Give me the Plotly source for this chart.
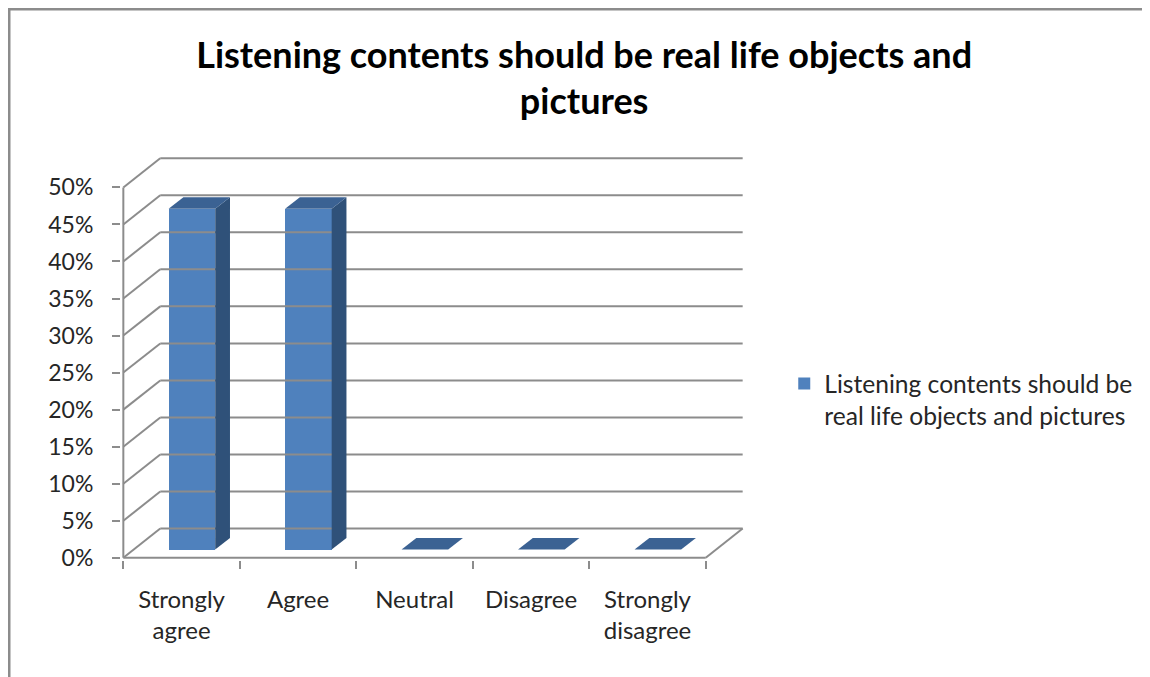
import plotly.graph_objects as go

# ---- data ----
categories = ["Strongly<br>agree", "Agree", "Neutral", "Disagree", "Strongly<br>disagree"]
values = [0.46, 0.46, 0.0, 0.0, 0.0]
series_name = "Listening contents should be<br>real life objects and pictures"
title_text = "Listening contents should be real life objects and<br>pictures"
y_ticks = [0.0, 0.05, 0.10, 0.15, 0.20, 0.25, 0.30, 0.35, 0.40, 0.45, 0.50]
y_tick_labels = ["0%", "5%", "10%", "15%", "20%", "25%", "30%", "35%", "40%", "45%", "50%"]

# ---- styling / 3D projection parameters ----
FRONT = "#4F81BD"
SIDE = "#2F5179"
TOP = "#3B6293"
GRID = "#8C8C8C"
DX = 0.317   # depth offset in category units
DY = 0.0394  # depth offset in value units
F0, F1 = 0.28, 0.68  # bar depth start / end fraction
BW = 0.40  # bar width
n = len(categories)
xl, xr = -0.5, n - 0.5
ymax = y_ticks[-1]

W, H = 1150, 677
ML, MR, MT, MB = 113, 413, 148, 125
PW, PH = W - ML - MR, H - MT - MB

fig = go.Figure()

# back wall gridlines + left side diagonals
gx, gy = [], []
for t in y_ticks:
    gx += [xl + DX, xr + DX, None]
    gy += [t + DY, t + DY, None]
    gx += [xl, xl + DX, None]
    gy += [t, t + DY, None]
# floor front line, right diagonal, front vertical axis
gx += [xl, xr, None, xr, xr + DX, None, xl, xl, None]
gy += [0, 0, None, 0, DY, None, 0, ymax, None]
fig.add_trace(go.Scatter(x=gx, y=gy, mode="lines", line=dict(color=GRID, width=2),
                         hoverinfo="skip", showlegend=False))

# front faces of bars
base = F0 * DY
xs = [i + F0 * DX for i in range(n)]
fig.add_trace(go.Bar(x=xs, y=values, base=[base] * n, width=BW,
                     marker=dict(color=FRONT, line=dict(width=0)),
                     name=series_name, showlegend=True))

# side and top faces
ddx = (F1 - F0) * DX
ddy = (F1 - F0) * DY
for xc, v in zip(xs, values):
    a, b = xc - BW / 2, xc + BW / 2
    if v > 0:
        fig.add_trace(go.Scatter(
            x=[b, b, b + ddx, b + ddx, b], y=[base, base + v, base + v + ddy, base + ddy, base],
            mode="lines", fill="toself", fillcolor=SIDE, line=dict(width=0, color=SIDE),
            hoverinfo="skip", showlegend=False))
    fig.add_trace(go.Scatter(
        x=[a, b, b + ddx, a + ddx, a], y=[base + v, base + v, base + v + ddy, base + v + ddy, base + v],
        mode="lines", fill="toself", fillcolor=TOP, line=dict(width=0, color=TOP),
        hoverinfo="skip", showlegend=False))

# invisible trace to carry the boundary tick axis
fig.add_trace(go.Scatter(x=[xl], y=[0], xaxis="x2", mode="markers",
                         marker=dict(opacity=0), hoverinfo="skip", showlegend=False))

xrange = [xl - 0.02, xr + DX + 0.02]
fig.update_layout(
    width=W, height=H,
    margin=dict(l=ML, r=MR, t=MT, b=MB, autoexpand=False),
    paper_bgcolor="white", plot_bgcolor="white",
    title=dict(text=title_text, x=0.501, xanchor="center", y=0.912, yanchor="top",
               xref="container", yref="container",
               font=dict(family="Lato", size=36, color="black", weight="bold")),
    xaxis=dict(range=xrange, tickvals=list(range(n)), ticktext=categories,
               showgrid=False, zeroline=False, showline=False, ticks="",
               ticklabelstandoff=23,
               tickfont=dict(family="Lato", size=24, color="#262626")),
    xaxis2=dict(range=xrange, overlaying="x", anchor="y", side="bottom",
                tickvals=[i - 0.5 for i in range(n + 1)], showticklabels=False,
                ticks="outside", ticklen=8, tickwidth=2, tickcolor=GRID,
                showgrid=False, zeroline=False, showline=False),
    yaxis=dict(range=[-0.003, ymax + DY + 0.003], tickvals=y_ticks, ticktext=y_tick_labels,
               showgrid=False, zeroline=False, showline=False,
               ticks="outside", ticklen=8, tickwidth=2, tickcolor=GRID,
               ticklabelstandoff=14,
               tickfont=dict(family="Lato", size=23, color="#262626")),
    legend=dict(xref="container", yref="container", x=0.675, y=0.4785,
                xanchor="left", yanchor="top", valign="top",
                font=dict(family="Lato", size=24.6, color="#262626"),
                bgcolor="rgba(0,0,0,0)"),
    bargap=0,
    shapes=[dict(type="rect", xref="paper", yref="paper",
                 x0=(1 - ML) / PW, x1=(W + 20 - ML) / PW,
                 y0=-(MB + 20) / PH, y1=1 + (MT - 1) / PH,
                 line=dict(color="#8C8C8C", width=3), fillcolor="rgba(0,0,0,0)", layer="below")],
)

fig.write_html("out.html")
